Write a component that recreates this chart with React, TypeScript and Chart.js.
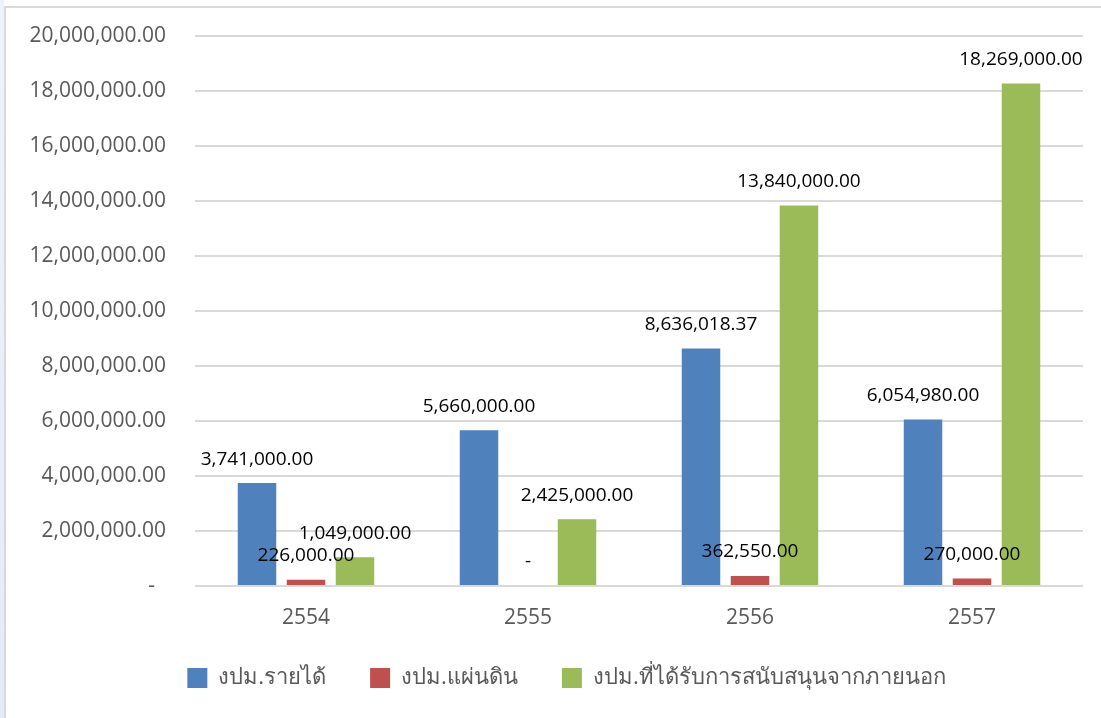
import React, { useEffect, useRef } from "react";
import { Chart, registerables } from "chart.js";

Chart.register(...registerables);

const categories = ["2554", "2555", "2556", "2557"];
const seriesNames = ["งปม.รายได้", "งปม.แผ่นดิน", "งปม.ที่ได้รับการสนับสนุนจากภายนอก"];
const revenue = [3741000, 5660000, 8636018.37, 6054980];
const state = [226000, 0, 362550, 270000];
const external = [1049000, 2425000, 13840000, 18269000];
const seriesColors = ["#4F81BD", "#C0504D", "#9BBB59"];
const yMin = 0;
const yMax = 20000000;
const yStep = 2000000;

const fmt = (v: number) =>
  v === 0
    ? "-"
    : v.toLocaleString("en-US", { minimumFractionDigits: 2, maximumFractionDigits: 2 });

const NUM_FONT = '"Open Sans", "Noto Sans", sans-serif';
const LEGEND_PAD = 44;

const dataLabelPlugin = {
  id: "dataLabels",
  afterDatasetsDraw(chart: any) {
    const ctx = chart.ctx;
    ctx.save();
    ctx.font = `19px ${NUM_FONT}`;
    ctx.fillStyle = "#000000";
    ctx.textAlign = "center";
    ctx.textBaseline = "middle";
    chart.data.datasets.forEach((ds: any, di: number) => {
      const meta = chart.getDatasetMeta(di);
      meta.data.forEach((bar: any, i: number) => {
        const v = ds.data[i];
        ctx.fillText(fmt(v), bar.x, bar.y - 24);
      });
    });
    ctx.restore();
  },
};

// place the legend row: items centred at x=566, boxes centred at y=678
const legendPlacePlugin = {
  id: "legendPlace",
  afterLayout(chart: any) {
    const lg = chart.legend;
    if (!lg || !lg.lineWidths) return;
    const lw = lg.lineWidths[0];
    const start = 566.5 - (lw - LEGEND_PAD) / 2;
    const R = lg.right;
    const L = 2 * start - LEGEND_PAD - R + lw;
    lg.left = L;
    lg.width = R - L;
    const h = lg.height;
    lg.top = 678 - LEGEND_PAD - 11;
    lg.bottom = lg.top + h;
  },
};

export default function App() {
  const ref = useRef<HTMLCanvasElement>(null);
  useEffect(() => {
    if (!ref.current) return;
    const chart = new Chart(ref.current, {
      type: "bar",
      data: {
        labels: categories,
        datasets: [revenue, state, external].map((d, i) => ({
          label: seriesNames[i],
          data: d,
          backgroundColor: seriesColors[i],
          borderWidth: 0,
          categoryPercentage: 0.662,
          barPercentage: 0.786,
        })),
      },
      options: {
        responsive: false,
        animation: false,
        layout: { padding: { left: 0, right: 18, top: 36, bottom: 0 } },
        plugins: {
          legend: {
            position: "bottom",
            labels: {
              boxWidth: 20,
              boxHeight: 20,
              padding: LEGEND_PAD,
              color: "#595959",
              font: { size: 22, family: NUM_FONT },
            },
          },
          tooltip: { enabled: false },
        },
        scales: {
          x: {
            grid: { display: false, drawTicks: false },
            border: { display: false },
            ticks: { color: "#595959", font: { size: 21, family: NUM_FONT }, padding: 19 },
            afterFit: (s: any) => {
              s.height = 56;
            },
          },
          y: {
            min: yMin,
            max: yMax,
            grid: {
              color: "#d9d9d9",
              lineWidth: 2,
              drawTicks: true,
              tickLength: 29,
              tickColor: "rgba(0,0,0,0)",
            },
            border: { display: false },
            ticks: {
              stepSize: yStep,
              color: "#595959",
              font: { size: 21, family: NUM_FONT },
              padding: 0,
              callback: (v: any) => (Number(v) === 0 ? "-  " : fmt(Number(v))),
            },
            afterFit: (s: any) => {
              s.width = 195;
            },
          },
        },
      },
      plugins: [dataLabelPlugin, legendPlacePlugin],
    });
    return () => chart.destroy();
  }, []);

  return (
    <div style={{ position: "fixed", left: 0, top: 0, width: 1101, height: 718, overflow: "hidden", background: "#fff" }}>
      <div style={{ position: "absolute", left: 0, top: 0, width: 4, height: 718, background: "linear-gradient(#eef2fb, #e4ebf8)" }} />
      <canvas ref={ref} width={1101} height={718} style={{ position: "absolute", left: 0, top: 0 }} />
      <div
        style={{
          position: "absolute",
          left: 4,
          top: 6,
          width: 1120,
          height: 740,
          border: "2px solid #d9d9d9",
          pointerEvents: "none",
        }}
      />
    </div>
  );
}
